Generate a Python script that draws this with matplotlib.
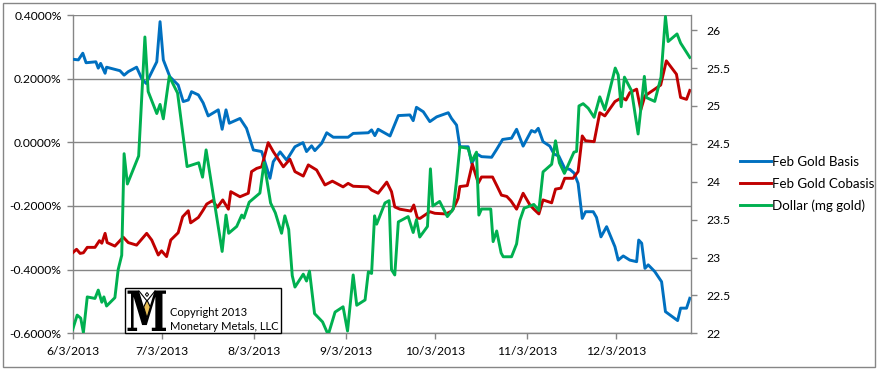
import matplotlib
matplotlib.use('Agg')
import matplotlib.pyplot as plt
import matplotlib.dates as mdates
from matplotlib.lines import Line2D
from matplotlib.patches import Rectangle, PathPatch, Polygon
from matplotlib.textpath import TextPath
from matplotlib.font_manager import FontProperties
from matplotlib.path import Path
import numpy as np
import datetime as dt

# ---------------- data ----------------
start_date = "6/3/2013"
end_date = "12/28/2013"
tick_labels = ["6/3/2013", "7/3/2013", "8/3/2013", "9/3/2013",
               "10/3/2013", "11/3/2013", "12/3/2013"]

# days after 6/3/2013
basis_day = [0, 1.9, 3.4, 4.5, 7.8, 8.6, 9.4, 10.9, 11.4, 15.9, 17.3, 18.7, 21.5, 23.2, 24.7, 28.3, 29.4, 30.5, 32.7, 35.5,
             37.2, 38.9, 40.0, 42.3, 43.9, 45.6, 49.0, 50.3, 51.6, 52.7, 56.3, 58.5, 60.8, 63.6, 66.4, 67.5, 69.8, 72.0, 74.8, 77.5,
             78.7, 80.4, 81.5, 83.8, 85.5, 87.7, 92.7, 94.4, 99.5, 100.6, 101.7, 102.8, 106.8, 109.6, 113.5, 114.6, 115.7, 118.0, 120.2, 122.5,
             126.4, 127.5, 129.2, 130.3, 133.1, 134.3, 136.1, 137.6, 141.0, 142.7, 144.7, 147.7, 149.4, 151.6, 154.4, 155.6, 156.7, 158.3, 160.6, 162.0,
             163.6, 165.6, 167.3, 168.8, 170.1, 171.5, 172.6, 175.2, 176.3, 177.8, 179.7, 182.5, 183.6, 185.3, 187.5, 189.8, 190.5, 191.5, 192.6, 193.7,
             195.9, 198.2, 199.5, 203.6, 204.6, 206.6, 207.7]
basis_pct = [0.261, 0.259, 0.280, 0.250, 0.253, 0.233, 0.248, 0.217, 0.236, 0.225, 0.211, 0.222, 0.236, 0.201, 0.185, 0.253, 0.379, 0.259, 0.206, 0.180,
             0.128, 0.133, 0.159, 0.149, 0.124, 0.083, 0.102, 0.041, 0.102, 0.060, 0.075, 0.044, -0.024, -0.029, -0.113, -0.061, -0.030, -0.056, -0.014, -0.001,
             -0.029, -0.011, -0.026, -0.003, 0.030, 0.016, 0.016, 0.028, 0.030, 0.039, 0.021, 0.041, 0.020, 0.084, 0.086, 0.068, 0.110, 0.096, 0.065, 0.080,
             0.093, 0.075, 0.054, -0.014, -0.014, -0.066, -0.037, -0.045, -0.047, -0.022, 0.009, 0.013, 0.041, -0.012, 0.037, 0.032, 0.044, 0.002, -0.012, -0.037,
             -0.043, -0.082, -0.085, -0.097, -0.129, -0.239, -0.218, -0.218, -0.236, -0.297, -0.265, -0.328, -0.370, -0.357, -0.370, -0.375, -0.307, -0.317, -0.396, -0.385,
             -0.406, -0.438, -0.532, -0.560, -0.521, -0.521, -0.490]

cobasis_day = [0, 1.3, 2.5, 3.6, 4.9, 7.5, 9.0, 9.8, 10.9, 11.6, 14.2, 17.0, 18.7, 21.5, 24.9, 26.6, 28.8, 29.9, 31.6, 33.0,
               35.5, 37.0, 38.9, 39.7, 42.3, 43.9, 45.1, 47.1, 48.7, 50.5, 52.4, 53.2, 56.3, 59.1, 60.2, 61.9, 63.6, 65.8, 67.5, 70.9,
               73.1, 74.8, 77.6, 79.3, 82.1, 84.9, 87.4, 91.0, 92.7, 94.4, 99.5, 100.6, 102.8, 105.7, 107.3, 108.4, 110.1, 113.8, 114.8, 116.0,
               116.9, 120.2, 121.9, 125.6, 127.6, 129.0, 129.7, 130.3, 132.8, 134.5, 136.5, 137.6, 141.3, 142.9, 144.3, 146.1, 147.5, 149.4, 151.6, 153.9,
               155.2, 156.9, 158.3, 161.2, 162.5, 164.3, 165.6, 168.4, 170.1, 171.5, 172.6, 175.5, 177.4, 179.1, 182.5, 184.9, 186.2, 187.5, 189.8, 191.2,
               192.6, 195.9, 197.9, 199.8, 203.2, 204.6, 206.6, 207.7]
cobasis_pct = [-0.347, -0.336, -0.349, -0.347, -0.330, -0.330, -0.309, -0.317, -0.286, -0.315, -0.326, -0.298, -0.315, -0.323, -0.286, -0.307, -0.354, -0.341, -0.359, -0.307,
               -0.284, -0.234, -0.215, -0.253, -0.236, -0.213, -0.194, -0.183, -0.204, -0.181, -0.210, -0.155, -0.171, -0.160, -0.092, -0.082, -0.077, -0.001, -0.029, -0.077,
               -0.053, -0.092, -0.106, -0.071, -0.087, -0.134, -0.122, -0.140, -0.129, -0.138, -0.140, -0.150, -0.160, -0.125, -0.155, -0.203, -0.210, -0.216, -0.197, -0.238,
               -0.239, -0.218, -0.223, -0.225, -0.216, -0.191, -0.176, -0.139, -0.136, -0.068, -0.128, -0.109, -0.109, -0.139, -0.166, -0.170, -0.184, -0.210, -0.160, -0.197,
               -0.210, -0.225, -0.181, -0.190, -0.147, -0.144, -0.113, -0.113, -0.092, 0.020, 0.005, 0.002, 0.093, 0.083, 0.128, 0.141, 0.133, 0.156, 0.167, 0.102,
               0.146, 0.167, 0.180, 0.256, 0.214, 0.141, 0.135, 0.163]

dollar_day = [0, 1.5, 2.7, 3.6, 4.9, 7.5, 8.6, 9.8, 10.5, 11.4, 14.2, 15.3, 16.5, 17.3, 18.4, 22.2, 24.3, 25.4, 28.3, 29.4,
              30.5, 32.5, 35.3, 38.5, 42.4, 43.7, 44.9, 50.3, 51.6, 52.5, 55.2, 56.9, 57.6, 59.4, 63.0, 64.4, 66.6, 68.2, 70.3, 71.4,
              72.7, 73.9, 74.8, 77.6, 78.7, 79.7, 81.4, 84.1, 86.0, 88.3, 91.0, 92.5, 94.4, 95.6, 98.4, 99.5, 100.6, 101.6, 102.3, 105.1,
              106.5, 107.3, 108.4, 109.6, 112.9, 114.6, 115.7, 116.8, 119.4, 120.4, 121.2, 123.5, 126.1, 128.1, 129.2, 130.3, 133.1, 134.3, 135.9, 136.7,
              137.6, 140.7, 141.5, 142.7, 144.2, 144.9, 147.7, 149.4, 150.5, 151.9, 155.2, 156.9, 158.3, 161.2, 162.5, 163.8, 165.5, 168.7, 169.6, 170.4,
              171.8, 173.5, 175.5, 177.4, 179.1, 182.6, 183.6, 184.6, 185.7, 188.1, 190.3, 192.4, 193.1, 195.9, 198.0, 199.5, 200.4, 203.4, 204.6, 207.7]
dollar_mg = [22.05, 22.24, 22.20, 22.01, 22.48, 22.46, 22.57, 22.41, 22.48, 22.36, 22.47, 22.84, 23.03, 24.37, 23.97, 24.34, 25.91, 25.19, 24.90, 25.02,
             24.83, 25.39, 25.17, 24.20, 24.25, 24.06, 24.42, 23.08, 23.56, 23.32, 23.41, 23.56, 23.52, 23.73, 23.85, 24.25, 23.72, 23.59, 23.32, 23.55,
             23.37, 22.76, 22.61, 22.78, 22.69, 22.82, 22.26, 22.15, 21.98, 22.28, 22.35, 22.03, 22.77, 22.37, 22.44, 22.81, 22.79, 23.55, 23.44, 23.72,
             23.75, 22.84, 22.77, 23.47, 23.54, 23.33, 23.50, 23.27, 23.41, 24.17, 23.68, 23.74, 23.54, 23.64, 24.02, 24.46, 24.44, 24.27, 24.39, 23.56,
             23.64, 23.64, 23.21, 23.35, 23.06, 23.01, 23.01, 23.18, 23.49, 23.65, 23.70, 23.62, 24.13, 24.23, 24.54, 24.25, 24.11, 24.39, 24.40, 25.00,
             25.03, 24.97, 24.85, 25.12, 24.95, 25.50, 25.41, 24.99, 25.38, 25.20, 24.63, 25.39, 25.11, 25.06, 25.38, 26.18, 25.85, 25.95, 25.83, 25.64]

series_names = ["Feb Gold Basis", "Feb Gold Cobasis", "Dollar (mg gold)"]
left_ticks = [-0.6, -0.4, -0.2, 0.0, 0.2, 0.4]
right_ticks = [22, 22.5, 23, 23.5, 24, 24.5, 25, 25.5, 26]
left_range = (-0.6, 0.4)
right_range = (22, 26.2)
copyright_lines = ["Copyright 2013", "Monetary Metals, LLC"]

# ---------------- styling ----------------
W, H, DPI = 878, 369, 100
BLUE, RED, GREEN = '#0070C0', '#C00000', '#00B050'
GRID = '#868686'
FS = 8.7
plt.rcParams['font.family'] = ['Lato', 'DejaVu Sans']
plt.rcParams['font.size'] = FS


def d2n(s):
    return mdates.date2num(dt.datetime.strptime(s, "%m/%d/%Y"))


def fx(px):
    return px / W


def fy(py):
    return 1 - py / H


x0 = d2n(start_date)
fig = plt.figure(figsize=(W / DPI, H / DPI), dpi=DPI)
L, R, T, B = 72.7, 690.7, 15.0, 333.3
ax = fig.add_axes([fx(L), fy(B), fx(R) - fx(L), fy(T) - fy(B)])
ax2 = ax.twinx()

LW = 2.1
l1, = ax.plot(x0 + np.array(basis_day), basis_pct, color=BLUE, lw=LW, solid_joinstyle='round', zorder=3)
l2, = ax.plot(x0 + np.array(cobasis_day), cobasis_pct, color=RED, lw=LW, solid_joinstyle='round', zorder=4)
l3, = ax2.plot(x0 + np.array(dollar_day), dollar_mg, color=GREEN, lw=LW, solid_joinstyle='round', zorder=3)

ax.set_xlim(x0, d2n(end_date))
ax.set_ylim(*left_range)
ax2.set_ylim(*right_range)

ax.set_xticks([d2n(s) for s in tick_labels])
ax.set_xticklabels(tick_labels)
ax.set_yticks(left_ticks)
ax.set_yticklabels([f"{v:.4f}%" for v in left_ticks])
ax2.set_yticks(right_ticks)
ax2.set_yticklabels([f"{v:g}" for v in right_ticks])

ax.yaxis.grid(True, color=GRID, lw=1.0)
ax.set_axisbelow(True)
for a in (ax, ax2):
    for s in a.spines.values():
        s.set_color(GRID)
        s.set_linewidth(1.0)
    a.spines['top'].set_visible(False)
ax.spines['right'].set_visible(False)
ax2.spines['left'].set_visible(False)
ax2.spines['bottom'].set_visible(False)

ax.tick_params(axis='x', direction='out', length=4, width=1, color=GRID, pad=5, labelsize=FS)
ax.tick_params(axis='y', direction='out', length=4, width=1, color=GRID, pad=4, labelsize=FS)
ax2.tick_params(axis='y', direction='out', length=4, width=1, color=GRID, pad=7, labelsize=FS)

# legend
fig.legend(handles=[l1, l2, l3], labels=series_names, loc='center left',
           bbox_to_anchor=(fx(740), fy(184)), frameon=False, handlelength=2.3,
           handletextpad=0.1, labelspacing=0.72, borderpad=0, borderaxespad=0,
           fontsize=9.6)

# copyright box with logo
bx0, bx1, by0, by1 = 125, 281.3, 288.3, 332.7
fig.add_artist(Rectangle((fx(bx0), fy(by1)), fx(bx1) - fx(bx0), fy(by0) - fy(by1),
                         transform=fig.transFigure, facecolor='white', edgecolor='black',
                         lw=1.0, zorder=10))
tp = TextPath((0, 0), "M", size=1, prop=FontProperties(family='DejaVu Serif', weight='bold'))
verts = tp.vertices.copy()
ext = tp.get_extents()
mx0, mx1, my0, my1 = 127.5, 166, 290.5, 331
verts[:, 0] = fx(mx0 + (verts[:, 0] - ext.x0) / ext.width * (mx1 - mx0))
verts[:, 1] = fy(my1 - (verts[:, 1] - ext.y0) / ext.height * (my1 - my0))
fig.add_artist(PathPatch(Path(verts, tp.codes), transform=fig.transFigure,
                         facecolor='black', edgecolor='none', zorder=11))
# small figure inside the M
fig.add_artist(Polygon([(fx(147), fy(300)), (fx(150.3), fy(307)), (fx(147), fy(318)), (fx(143.7), fy(307))],
                       closed=True, transform=fig.transFigure, facecolor='#E8BE55',
                       edgecolor='black', lw=0.8, zorder=12))
fig.add_artist(Polygon([(fx(147), fy(292.5)), (fx(148.6), fy(294.5)), (fx(147), fy(296.5)), (fx(145.4), fy(294.5))],
                       closed=True, transform=fig.transFigure, facecolor='white',
                       edgecolor='black', lw=0.7, zorder=12))
fig.add_artist(Line2D([fx(139), fx(147), fx(155)], [fy(291), fy(301), fy(291)],
                      transform=fig.transFigure, color='black', lw=0.8, zorder=12))
fig.text(fx(170), fy(316), copyright_lines[0], fontsize=8.0, va='baseline', ha='left', zorder=13)
fig.text(fx(170), fy(329.5), copyright_lines[1], fontsize=8.0, va='baseline', ha='left', zorder=13)

# outer chart border
fig.add_artist(Rectangle((fx(2.5), fy(366.5)), fx(875.5) - fx(2.5), fy(2.5) - fy(366.5),
                         transform=fig.transFigure, facecolor='none', edgecolor=GRID, lw=1.0, zorder=0))

fig.savefig('out.png', dpi=DPI)
